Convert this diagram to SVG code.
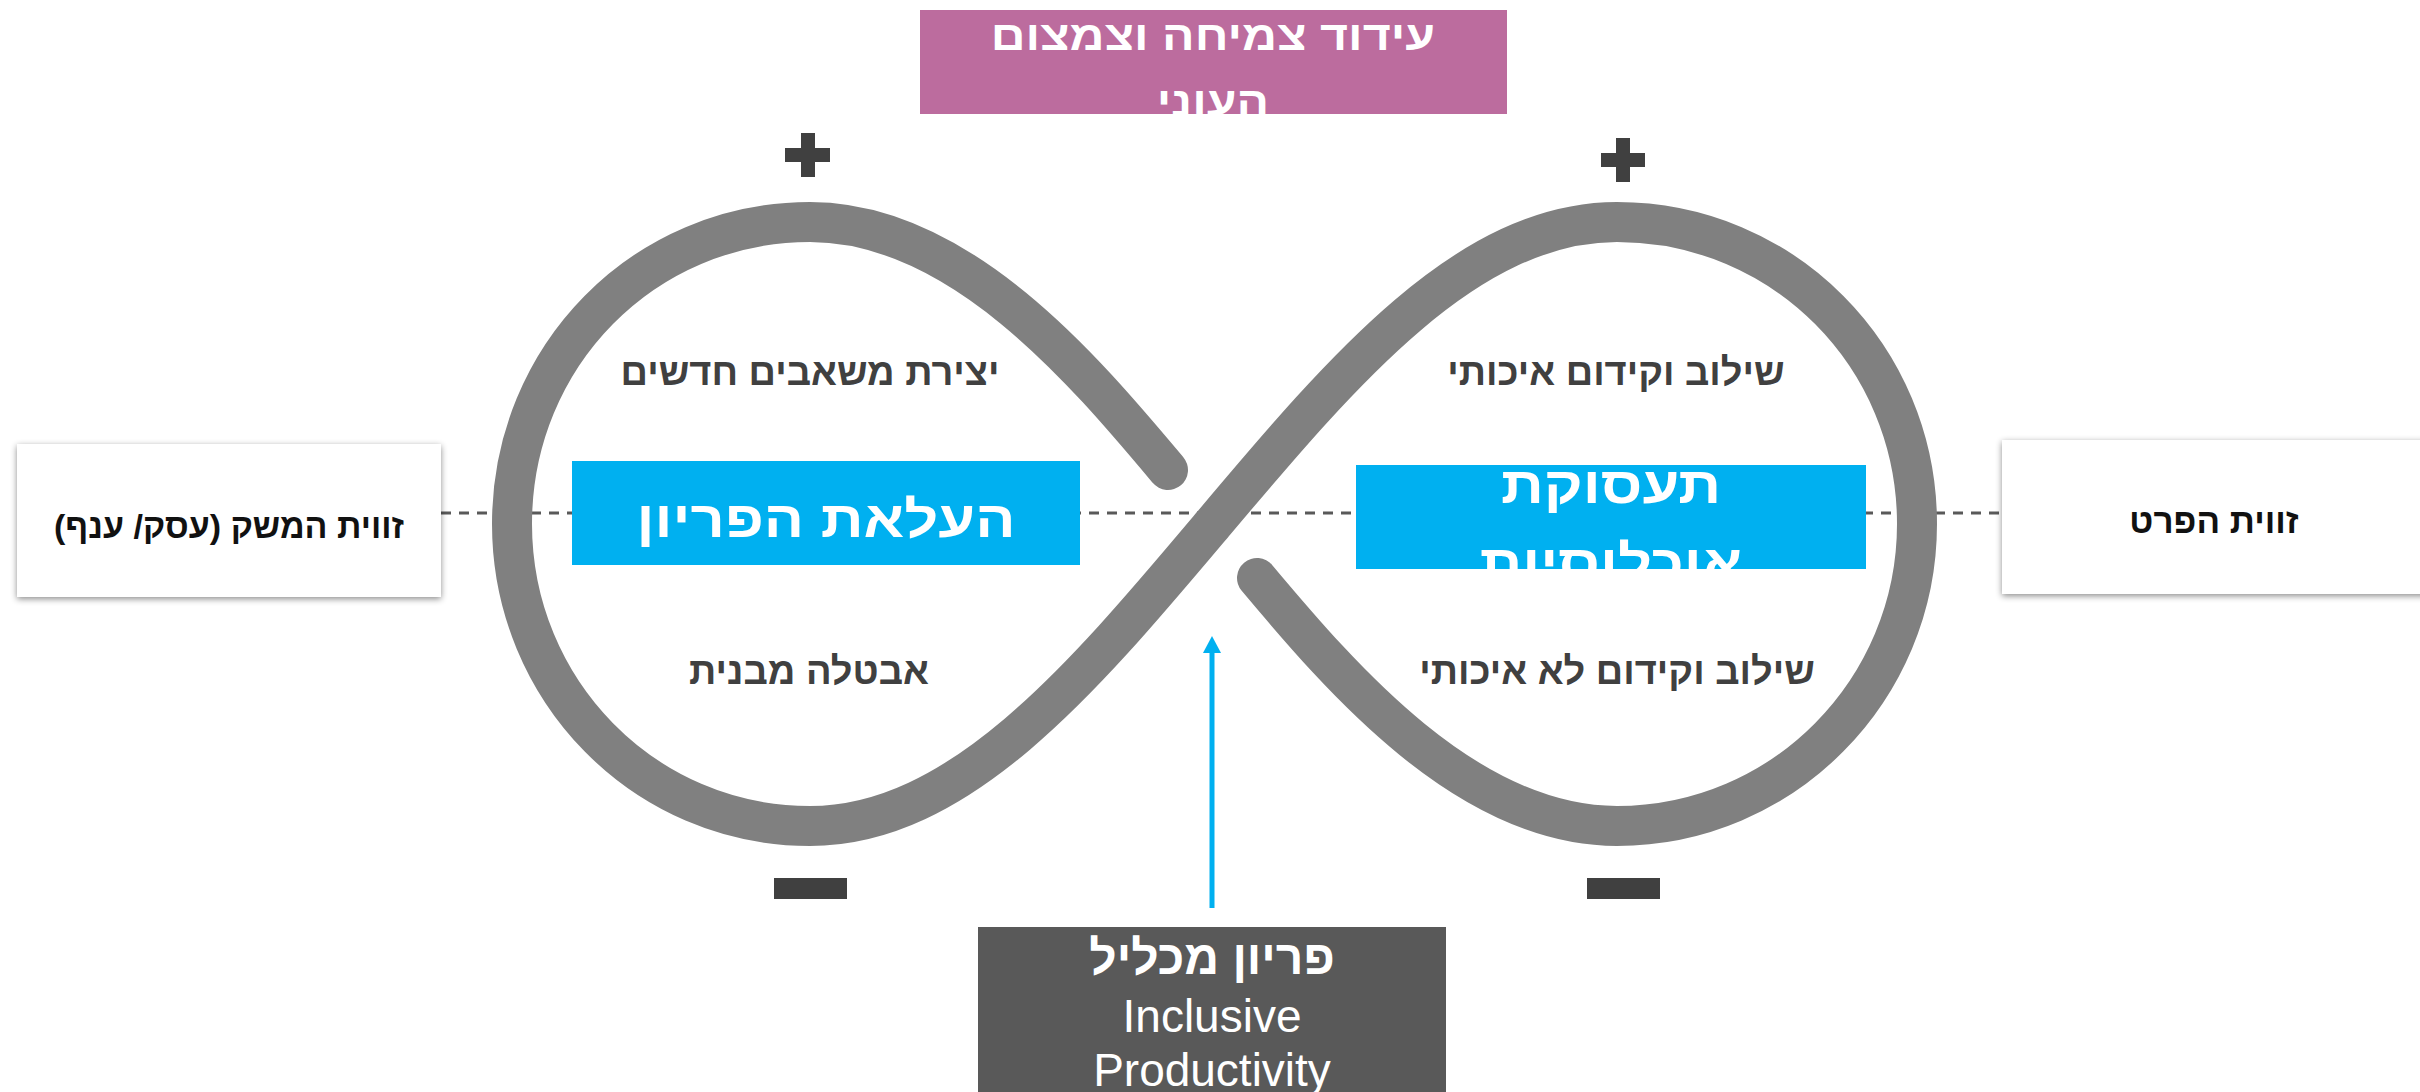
<svg xmlns="http://www.w3.org/2000/svg" width="2420" height="1092" viewBox="0 0 2420 1092">
<defs>
<style>
.he{font-family:"Liberation Sans","DejaVu Sans",sans-serif;font-weight:bold;direction:rtl;unicode-bidi:embed;text-anchor:middle}
.hb{font-family:"Liberation Sans","DejaVu Sans",sans-serif;font-weight:bold;direction:rtl;unicode-bidi:embed;text-anchor:middle}
.wt{fill:#ffffff}
.dk{fill:#404040}
.sign{fill:#404040}
</style>
<filter id="sh" x="-10%" y="-20%" width="120%" height="140%">
<feDropShadow dx="0" dy="2" stdDeviation="3" flood-color="#000000" flood-opacity="0.45"/>
</filter>
<clipPath id="cpPink"><rect x="920" y="10" width="587" height="104"/></clipPath>
<clipPath id="cpBlueR"><rect x="1356" y="465" width="510" height="104"/></clipPath>
<clipPath id="cpBottom"><rect x="978" y="927" width="468" height="165"/></clipPath>
</defs>
<rect width="2420" height="1092" fill="#ffffff"/>

<g id="connectors">
<line id="axis" x1="441" y1="513" x2="2002" y2="513" stroke="#595959" stroke-width="3" stroke-dasharray="10 8"/>
<path id="infinity" d="M1168,470 C1084,370 960,222 810,222 C644,222 512,356 512,524 C512,690 644,826 810,826 C960,826 1084,677 1213,524 C1342,371 1467,222 1617,222 C1783,222 1917,356 1917,524 C1917,690 1783,826 1617,826 C1467,826 1341,678 1257,578" fill="none" stroke="#808080" stroke-width="40" stroke-linecap="round"/>
<line id="arrow" x1="1212" y1="908" x2="1212" y2="652" stroke="#00B0F0" stroke-width="5"/>
<path d="M1203,653 L1212,636 L1221,653 Z" fill="#00B0F0"/>
</g>

<g id="node-top">
<rect x="920" y="10" width="587" height="104" fill="#BC6C9E"/>
<g clip-path="url(#cpPink)">
<text class="he wt" x="1054.8" y="50" font-size="42" transform="scale(1.15,1)">עידוד צמיחה וצמצום</text>
<text class="he wt" x="1054.8" y="116" font-size="42" transform="scale(1.15,1)">העוני</text>
</g>
</g>

<g id="node-left">
<rect x="17" y="444" width="424" height="153" fill="#ffffff" filter="url(#sh)"/>
<text class="hb" x="229" y="538" font-size="34" fill="#111111">זווית המשק (עסק/ ענף)</text>
</g>

<g id="node-right">
<rect x="2002" y="440" width="430" height="154" fill="#ffffff" filter="url(#sh)"/>
<text class="hb" x="2214" y="533" font-size="35" fill="#111111">זווית הפרט</text>
</g>

<g id="node-productivity">
<rect x="572" y="461" width="508" height="104" fill="#00B0F0"/>
<text class="he wt" x="706" y="537" font-size="51" transform="scale(1.17,1)">העלאת הפריון</text>
</g>

<g id="node-employment">
<rect x="1356" y="465" width="510" height="104" fill="#00B0F0"/>
<g clip-path="url(#cpBlueR)">
<text class="he wt" x="1376.9" y="503" font-size="51" transform="scale(1.17,1)">תעסוקת</text>
<text class="he wt" x="1376.9" y="581" font-size="51" transform="scale(1.17,1)">אוכלוסיות</text>
</g>
</g>

<g id="labels">
<text class="hb dk" x="810" y="385" font-size="38">יצירת משאבים חדשים</text>
<text class="hb dk" x="809" y="684" font-size="38">אבטלה מבנית</text>
<text class="hb dk" x="1616" y="385" font-size="38">שילוב וקידום איכותי</text>
<text class="hb dk" x="1617" y="684" font-size="38">שילוב וקידום לא איכותי</text>
</g>

<g id="signs">
<rect class="sign" x="801" y="133" width="14" height="44"/>
<rect class="sign" x="785" y="148" width="45" height="14"/>
<rect class="sign" x="1616" y="138" width="14" height="44"/>
<rect class="sign" x="1601" y="153" width="44" height="14"/>
<rect class="sign" x="774" y="878" width="73" height="21"/>
<rect class="sign" x="1587" y="878" width="73" height="21"/>
</g>

<g id="node-bottom">
<rect x="978" y="927" width="468" height="170" fill="#595959"/>
<g clip-path="url(#cpBottom)">
<text class="hb wt" x="1212" y="974" font-size="48">פריון מכליל</text>
<text x="1212" y="1032" font-size="46" fill="#ffffff" font-family="'Liberation Sans',Arial,sans-serif" text-anchor="middle">Inclusive</text>
<text x="1212" y="1086" font-size="46" fill="#ffffff" font-family="'Liberation Sans',Arial,sans-serif" text-anchor="middle">Productivity</text>
</g>
</g>
</svg>
